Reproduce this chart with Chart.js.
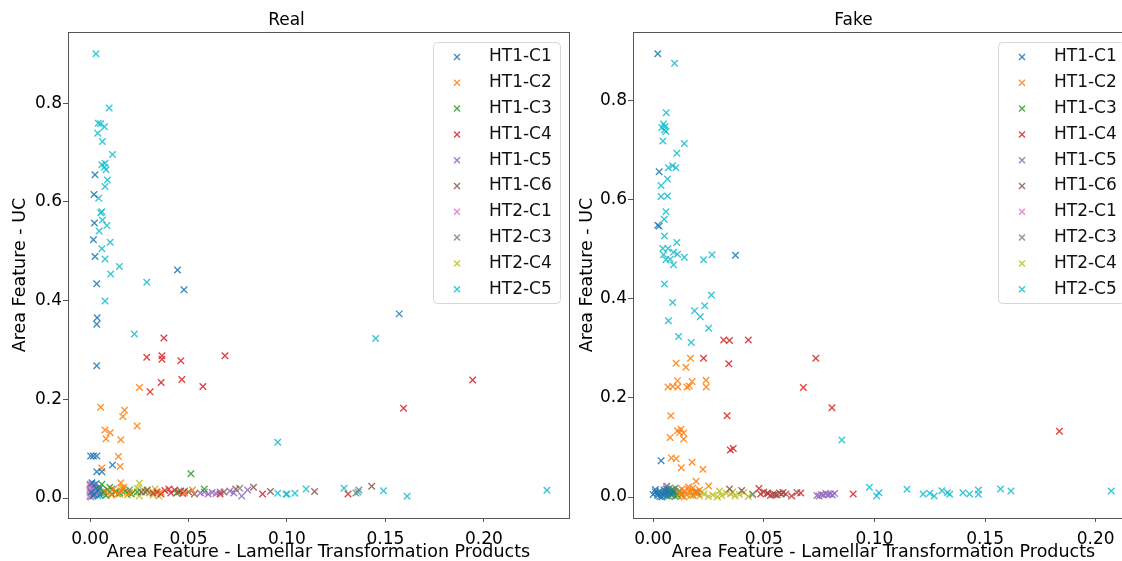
<!DOCTYPE html>
<html>
<head>
<meta charset="utf-8">
<script src="https://cdn.jsdelivr.net/npm/chart.js@4.4.1/dist/chart.umd.min.js"></script>
<style>
html, body { margin: 0; padding: 0; background: #fff; overflow: hidden; width: 1122px; height: 561px; }
#realChart { position: absolute; left: 0; top: 0; }
#fakeChart { position: absolute; left: 570px; top: 0; }
</style>
</head>
<body>
<canvas id="realChart" width="575" height="561"></canvas>
<canvas id="fakeChart" width="570" height="561"></canvas>
<script>
const labels = ['HT1-C1', 'HT1-C2', 'HT1-C3', 'HT1-C4', 'HT1-C5', 'HT1-C6', 'HT2-C1', 'HT2-C3', 'HT2-C4', 'HT2-C5'];
const colors = ['#1f77b4', '#ff7f0e', '#2ca02c', '#d62728', '#9467bd', '#8c564b', '#e377c2', '#7f7f7f', '#bcbd22', '#17becf'];

// Real
const realHT1C1 = [[0.0025,0.655],[0.002,0.615],[0.0022,0.557],[0.0017,0.523],[0.0025,0.489],[0.0444,0.462],[0.0034,0.434],[0.0477,0.422],[0.0036,0.365],[0.0034,0.352],[0.0034,0.268],[0.157,0.373],[0.0003,0.085],[0.0017,0.085],[0.0034,0.085],[0.0034,0.053],[0.006,0.053],[0.0114,0.067],[0.001,0.031],[0.003,0.029],[0.0005,0.012],[0.002,0.008],[0.004,0.015],[0.0015,0.004],[0.003,0.020],[0.005,0.006]];
const realHT1C2 = [[0.0251,0.224],[0.0054,0.184],[0.0175,0.178],[0.0166,0.165],[0.0239,0.146],[0.0076,0.138],[0.0102,0.132],[0.0081,0.120],[0.0156,0.118],[0.0144,0.084],[0.006,0.061],[0.0153,0.064],[0.0156,0.031],[0.008,0.012],[0.012,0.018],[0.014,0.008],[0.017,0.022],[0.02,0.010],[0.016,0.014],[0.011,0.006],[0.036,0.012],[0.048,0.010],[0.052,0.016]];
const realHT1C3 = [[0.0512,0.049],[0.005,0.020],[0.007,0.010],[0.009,0.016],[0.011,0.008],[0.013,0.012],[0.006,0.028],[0.010,0.022],[0.015,0.010],[0.018,0.014],[0.021,0.008],[0.024,0.012],[0.058,0.018],[0.044,0.010],[0.008,0.005]];
const realHT1C4 = [[0.0375,0.324],[0.0288,0.285],[0.0365,0.288],[0.0365,0.281],[0.0461,0.278],[0.0685,0.288],[0.0361,0.234],[0.0466,0.240],[0.0573,0.226],[0.0305,0.215],[0.1943,0.239],[0.1592,0.182],[0.0876,0.008],[0.131,0.008],[0.034,0.012],[0.038,0.015],[0.041,0.010],[0.043,0.016],[0.045,0.012],[0.040,0.018],[0.036,0.008],[0.047,0.009],[0.066,0.008],[0.032,0.010]];
const realHT1C5 = [[0.056,0.010],[0.058,0.012],[0.060,0.008],[0.062,0.011],[0.064,0.009],[0.066,0.012],[0.071,0.014],[0.077,0.004],[0.080,0.016],[0.073,0.010],[0.002,0.026],[0.0,0.028]];
const realHT1C6 = [[0.083,0.022],[0.0916,0.013],[0.114,0.013],[0.143,0.024],[0.050,0.012],[0.053,0.008],[0.046,0.014],[0.074,0.018],[0.068,0.012],[0.029,0.016],[0.026,0.012]];
const realHT2C1 = [[0.0,0.005],[0.0,0.010],[0.0,0.015],[0.0,0.020],[0.0,0.025],[0.001,0.008],[0.001,0.018],[0.001,0.028],[0.002,0.012],[0.002,0.022],[0.0005,0.002],[0.0015,0.006]];
const realHT2C3 = [[0.1365,0.016],[0.004,0.020],[0.007,0.014],[0.011,0.018],[0.020,0.016],[0.028,0.012],[0.048,0.014],[0.076,0.020],[0.135,0.010],[0.003,0.010]];
const realHT2C4 = [[0.025,0.030],[0.013,0.014],[0.015,0.008],[0.017,0.018],[0.019,0.006],[0.022,0.012],[0.025,0.004],[0.027,0.016],[0.030,0.010],[0.032,0.006],[0.035,0.004],[0.016,0.020],[0.024,0.020],[0.029,0.014],[0.033,0.018],[0.019,0.011]];
const realHT2C5 = [[0.003,0.900],[0.0097,0.790],[0.0042,0.759],[0.0054,0.758],[0.0073,0.752],[0.0039,0.739],[0.0063,0.722],[0.0114,0.696],[0.006,0.675],[0.0076,0.678],[0.0081,0.665],[0.0073,0.670],[0.0088,0.644],[0.0076,0.631],[0.0044,0.607],[0.006,0.580],[0.0054,0.578],[0.0063,0.563],[0.0085,0.552],[0.0046,0.541],[0.0102,0.518],[0.006,0.505],[0.0076,0.484],[0.0149,0.469],[0.0105,0.454],[0.0288,0.437],[0.0076,0.399],[0.0225,0.332],[0.145,0.323],[0.0953,0.113],[0.0953,0.0095],[0.0995,0.0075],[0.104,0.0095],[0.1097,0.018],[0.129,0.0196],[0.149,0.0148],[0.161,0.0034],[0.232,0.0155],[0.0,0.003],[0.002,0.006],[0.004,0.004],[0.006,0.008],[0.003,0.014],[0.136,0.012],[0.1,0.008]];

// Fake
const fakeHT1C1 = [[0.0021,0.895],[0.0027,0.657],[0.0021,0.549],[0.0027,0.547],[0.0036,0.073],[0.0372,0.488],[0.0,0.005],[0.001,0.010],[0.002,0.003],[0.003,0.012],[0.004,0.006],[0.005,0.009],[0.006,0.002],[0.007,0.011],[0.001,0.015],[0.003,0.001],[0.005,0.014],[0.008,0.006],[0.002,0.008],[0.004,0.0],[0.006,0.016],[0.009,0.010]];
const fakeHT1C2 = [[0.0104,0.270],[0.0148,0.262],[0.0169,0.280],[0.0067,0.222],[0.0089,0.223],[0.0112,0.222],[0.011,0.235],[0.0153,0.222],[0.0163,0.224],[0.0176,0.233],[0.0239,0.236],[0.024,0.222],[0.008,0.164],[0.011,0.134],[0.0126,0.137],[0.0138,0.129],[0.0077,0.120],[0.0138,0.117],[0.0119,0.130],[0.0082,0.079],[0.0104,0.077],[0.0176,0.070],[0.0127,0.059],[0.0225,0.056],[0.0194,0.032],[0.0251,0.022],[0.012,0.008],[0.013,0.002],[0.014,0.012],[0.015,0.005],[0.016,0.015],[0.017,0.009],[0.018,0.003],[0.019,0.011],[0.020,0.006],[0.013,0.016],[0.016,0.020],[0.021,0.014],[0.014,0.000],[0.018,0.018]];
const fakeHT1C3 = [[0.005,0.004],[0.006,0.010],[0.007,0.002],[0.008,0.013],[0.009,0.006],[0.010,0.009],[0.011,0.003],[0.012,0.012],[0.007,0.016],[0.010,0.001],[0.013,0.006],[0.009,0.015]];
const fakeHT1C4 = [[0.0319,0.317],[0.0345,0.316],[0.043,0.317],[0.0342,0.269],[0.0228,0.280],[0.0735,0.280],[0.0679,0.221],[0.0808,0.180],[0.0334,0.164],[0.0349,0.095],[0.0362,0.098],[0.1836,0.133],[0.0904,0.006],[0.0478,0.017],[0.0486,0.006],[0.0516,0.008],[0.0587,0.009],[0.0626,0.002],[0.0667,0.008],[0.055,0.005]];
const fakeHT1C5 = [[0.074,0.003],[0.076,0.005],[0.077,0.004],[0.078,0.007],[0.079,0.005],[0.080,0.006],[0.081,0.004],[0.082,0.007],[0.075,0.002],[0.0062,0.022]];
const fakeHT1C6 = [[0.0345,0.016],[0.040,0.013],[0.052,0.007],[0.054,0.005],[0.056,0.004],[0.057,0.008],[0.060,0.006],[0.065,0.009],[0.050,0.010],[0.053,0.003]];
const fakeHT2C1 = [[0.006,0.020],[0.003,0.008],[0.008,0.004]];
const fakeHT2C3 = [[0.010,0.018],[0.020,0.010],[0.045,0.006],[0.058,0.006]];
const fakeHT2C4 = [[0.017,0.003],[0.019,0.008],[0.021,0.002],[0.023,0.006],[0.025,0.001],[0.027,0.004],[0.029,0.000],[0.031,0.003],[0.033,0.008],[0.035,0.006],[0.037,0.002],[0.039,0.005],[0.041,0.009],[0.043,0.001],[0.045,0.004],[0.022,0.010],[0.03,0.012],[0.036,0.01]];
const fakeHT2C5 = [[0.0097,0.876],[0.0059,0.776],[0.0047,0.753],[0.0054,0.748],[0.0051,0.741],[0.0058,0.738],[0.0039,0.746],[0.0044,0.719],[0.0141,0.714],[0.0107,0.694],[0.0069,0.665],[0.0088,0.669],[0.0103,0.665],[0.0065,0.642],[0.0036,0.629],[0.0036,0.607],[0.0065,0.608],[0.0058,0.576],[0.005,0.561],[0.0051,0.527],[0.0107,0.514],[0.0044,0.502],[0.0067,0.502],[0.0047,0.489],[0.0092,0.494],[0.011,0.490],[0.0141,0.484],[0.0058,0.479],[0.0077,0.480],[0.0092,0.469],[0.0228,0.479],[0.0266,0.489],[0.0051,0.430],[0.0088,0.393],[0.0263,0.408],[0.0187,0.376],[0.0233,0.386],[0.0213,0.364],[0.0069,0.356],[0.0251,0.341],[0.0115,0.324],[0.0172,0.312],[0.0853,0.115],[0.0977,0.0196],[0.101,0.002],[0.102,0.0087],[0.1147,0.0155],[0.122,0.006],[0.125,0.0075],[0.127,0.002],[0.1305,0.0127],[0.133,0.0087],[0.134,0.0055],[0.140,0.0087],[0.143,0.006],[0.147,0.014],[0.147,0.0055],[0.157,0.016],[0.1617,0.012],[0.207,0.012]];

const realSeries = [realHT1C1, realHT1C2, realHT1C3, realHT1C4, realHT1C5, realHT1C6, realHT2C1, realHT2C3, realHT2C4, realHT2C5];
const fakeSeries = [fakeHT1C1, fakeHT1C2, fakeHT1C3, fakeHT1C4, fakeHT1C5, fakeHT1C6, fakeHT2C1, fakeHT2C3, fakeHT2C4, fakeHT2C5];

const FONT = 'DejaVu Sans';

function alpha(hex, a) {
    const n = parseInt(hex.slice(1), 16);
    return `rgba(${n >> 16},${(n >> 8) & 255},${n & 255},${a})`;
}

const frame = {
    id: 'frame',
    beforeDatasetsDraw(chart) {
        const {ctx, chartArea: a} = chart;
        ctx.save();
        ctx.strokeStyle = '#555';
        ctx.lineWidth = 1;
        ctx.strokeRect(Math.round(a.left) + 0.5, Math.round(a.top) + 0.5, Math.round(a.right - a.left), Math.round(a.bottom - a.top));
        ctx.restore();
    }
};

const boxLegend = {
    id: 'boxLegend',
    afterDraw(chart) {
        const {ctx, chartArea: a} = chart;
        const w = 127, h = 261;
        const left = a.right - 9 - w, top = a.top + 10;
        ctx.save();
        ctx.beginPath();
        ctx.roundRect(left + 0.5, top + 0.5, w, h, 4);
        ctx.fillStyle = 'rgba(255,255,255,0.85)';
        ctx.fill();
        ctx.strokeStyle = '#d6d6d6';
        ctx.lineWidth = 1;
        ctx.stroke();
        ctx.font = `17px '${FONT}'`;
        ctx.textBaseline = 'middle';
        ctx.textAlign = 'left';
        labels.forEach((lab, i) => {
            const y = top + 15 + i * 25.8;
            const x = left + 24;
            const d = 3;
            ctx.strokeStyle = alpha(colors[i], 0.85);
            ctx.lineWidth = 1.4;
            ctx.beginPath();
            ctx.moveTo(x - d, y - d); ctx.lineTo(x + d, y + d);
            ctx.moveTo(x - d, y + d); ctx.lineTo(x + d, y - d);
            ctx.stroke();
            ctx.fillStyle = '#111';
            ctx.fillText(lab, left + 56, y);
        });
        ctx.restore();
    }
};

function makeChart(id, titleText, series, xMin, xMax, yMin, yMax, yWidth, yTitlePad, padRight) {
    const datasets = series.map((pts, i) => ({
        label: labels[i],
        data: pts.map(p => ({x: p[0], y: p[1]})),
        pointStyle: 'crossRot',
        pointRadius: 4.6,
        pointBorderWidth: 1.4,
        borderColor: alpha(colors[i], 0.85),
        backgroundColor: alpha(colors[i], 0.85)
    }));
    return new Chart(document.getElementById(id), {
        type: 'scatter',
        data: {datasets},
        options: {
            responsive: false,
            animation: false,
            layout: {padding: {left: 0, right: padRight, top: 0, bottom: 0}},
            plugins: {
                legend: {display: false},
                tooltip: {enabled: false},
                title: {
                    display: true,
                    text: titleText,
                    color: '#000',
                    font: {family: FONT, size: 17, weight: 'normal'},
                    padding: {top: 10.5, bottom: 1.1}
                }
            },
            scales: {
                x: {
                    type: 'linear',
                    min: xMin,
                    max: xMax,
                    afterFit(s) { s.height = 43; s.paddingLeft = 0; s.paddingRight = 0; },
                    ticks: {
                        stepSize: 0.05,
                        includeBounds: false,
                        autoSkip: false,
                        maxRotation: 0,
                        padding: 7,
                        color: '#000',
                        font: {family: FONT, size: 17},
                        callback: v => v.toFixed(2)
                    },
                    grid: {drawOnChartArea: false, drawTicks: true, tickLength: 4, tickColor: '#555'},
                    border: {color: '#555'},
                    title: {
                        display: true,
                        text: 'Area Feature - Lamellar Transformation Products',
                        color: '#000',
                        font: {family: FONT, size: 17.5, lineHeight: 1},
                        padding: {top: 0, bottom: 0}
                    }
                },
                y: {
                    type: 'linear',
                    min: yMin,
                    max: yMax,
                    afterFit(s) { s.width = yWidth; s.paddingTop = 0; s.paddingBottom = 0; },
                    ticks: {
                        stepSize: 0.2,
                        includeBounds: false,
                        autoSkip: false,
                        padding: 1,
                        color: '#000',
                        font: {family: FONT, size: 17},
                        callback: v => v.toFixed(1)
                    },
                    grid: {drawOnChartArea: false, drawTicks: true, tickLength: 5, tickColor: '#555'},
                    border: {color: '#555'},
                    title: {
                        display: true,
                        text: 'Area Feature - UC',
                        color: '#000',
                        font: {family: FONT, size: 17.5, lineHeight: 1},
                        padding: {top: yTitlePad, bottom: yTitlePad}
                    }
                }
            }
        },
        plugins: [frame, boxLegend]
    });
}

makeChart('realChart', 'Real', realSeries, -0.0112, 0.2432, -0.0405, 0.944, 68, 12, 2);
makeChart('fakeChart', 'Fake', fakeSeries, -0.0091, 0.2173, -0.0424, 0.939, 63, 9, 3);
</script>
</body>
</html>
